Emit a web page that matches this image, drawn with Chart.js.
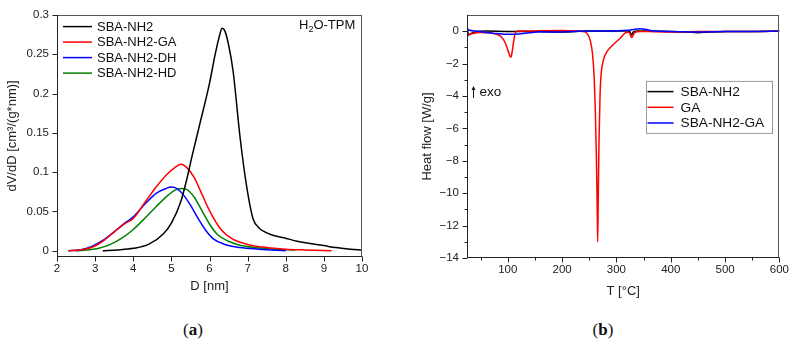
<!DOCTYPE html>
<html>
<head>
<meta charset="utf-8">
<script src="https://cdn.jsdelivr.net/npm/chart.js@4.4.0/dist/chart.umd.min.js"></script>
<style>
  body { margin: 0; background: #fff; width: 794px; height: 344px; position: relative; overflow: hidden; }
  #graficoA { position: absolute; left: 0; top: 0; }
  #graficoB { position: absolute; left: 400px; top: 0; }
  .legenda { position: absolute; top: 320px; font-family: "Liberation Serif", "DejaVu Serif", serif; font-size: 17px; color: #111; transform: translateX(-50%); }
</style>
</head>
<body>
<canvas id="graficoA" width="397" height="300"></canvas>
<canvas id="graficoB" width="394" height="300"></canvas>
<div class="legenda" style="left:193px">(<b>a</b>)</div>
<div class="legenda" style="left:603px">(<b>b</b>)</div>
<script>
// ---- (a) distribuicao de poros
const xNH2 = [3.2, 3.6, 4.0, 4.4, 4.8, 5.0, 5.25, 5.4, 5.55, 5.75, 6.0, 6.15, 6.27, 6.33, 6.4, 6.5, 6.62, 6.8, 6.97, 7.14, 7.3, 7.45, 7.7, 7.95, 8.3, 8.6, 9.0, 9.3, 9.7, 10.0];
const yNH2 = [0, 0.001, 0.003, 0.008, 0.022, 0.035, 0.063, 0.09, 0.122, 0.162, 0.213, 0.25, 0.275, 0.283, 0.28, 0.262, 0.228, 0.145, 0.083, 0.041, 0.029, 0.024, 0.019, 0.0165, 0.012, 0.0095, 0.0065, 0.004, 0.002, 0.001];
const xGA = [2.3, 2.6, 2.9, 3.2, 3.5, 3.8, 4.0, 4.3, 4.6, 4.9, 5.1, 5.25, 5.4, 5.6, 5.8, 6.0, 6.3, 6.6, 7.0, 7.5, 8.0, 8.5, 9.2];
const yGA = [0, 0.001, 0.004, 0.012, 0.024, 0.035, 0.041, 0.061, 0.081, 0.098, 0.106, 0.11, 0.106, 0.093, 0.072, 0.051, 0.027, 0.015, 0.008, 0.004, 0.002, 0.001, 0];
const xDH = [2.3, 2.6, 2.9, 3.2, 3.5, 3.8, 4.0, 4.3, 4.6, 4.85, 5.0, 5.15, 5.3, 5.5, 5.7, 5.9, 6.1, 6.4, 6.8, 7.3, 8.0];
const yDH = [0, 0.001, 0.005, 0.013, 0.024, 0.036, 0.043, 0.059, 0.073, 0.079, 0.081, 0.079, 0.072, 0.058, 0.041, 0.026, 0.015, 0.008, 0.004, 0.002, 0];
const xHD = [2.5, 2.8, 3.1, 3.4, 3.7, 4.0, 4.3, 4.6, 4.9, 5.1, 5.25, 5.4, 5.6, 5.8, 6.0, 6.2, 6.5, 6.8, 7.2, 7.7, 8.25];
const yHD = [0, 0.001, 0.003, 0.008, 0.016, 0.027, 0.041, 0.056, 0.07, 0.077, 0.079, 0.078, 0.068, 0.051, 0.034, 0.021, 0.012, 0.007, 0.004, 0.002, 0.001];
const ticksXA = [2, 3, 4, 5, 6, 7, 8, 9, 10];
const ticksYA = [0, 0.05, 0.1, 0.15, 0.2, 0.25, 0.3];
const rotulosYA = ["0", "0.05", "0.1", "0.15", "0.2", "0.25", "0.3"];

// ---- (b) DSC
const tNH2 = [25, 28, 32, 40, 60, 100, 150, 200, 250, 300, 320, 325, 328, 331, 340, 400, 430, 450, 470, 500, 550, 600];
const hNH2 = [0.3, -0.25, -0.15, -0.05, 0, -0.02, -0.02, -0.05, 0, 0, 0, -0.05, -0.25, -0.05, 0, -0.02, -0.06, -0.1, -0.05, -0.03, -0.02, 0];
const tGA = [25, 35, 50, 65, 80, 88, 95, 100, 104, 106, 108, 111, 114, 118, 130, 160, 200, 230, 242, 248, 252, 256, 259, 261, 263, 264.5, 265.5, 266.5, 268, 270, 272, 276, 282, 292, 305, 317, 323, 328, 333, 338, 345, 360, 400, 450, 500, 550, 600];
const hGA = [-0.25, -0.15, -0.08, -0.1, -0.2, -0.35, -0.7, -1.15, -1.55, -1.6, -1.3, -0.6, -0.1, 0, 0, 0.02, 0.03, 0, -0.05, -0.25, -0.6, -1.4, -2.8, -4.7, -7.5, -10.5, -13.0, -10.5, -6.7, -3.8, -2.6, -1.8, -1.3, -0.9, -0.5, -0.1, -0.05, -0.4, -0.12, -0.04, -0.02, -0.03, -0.05, -0.03, -0.02, -0.03, 0];
const tNH2GA = [25, 30, 40, 60, 80, 100, 120, 140, 160, 190, 220, 250, 290, 320, 335, 345, 355, 370, 400, 450, 500, 550, 600];
const hNH2GA = [0.15, 0.05, 0, -0.08, -0.15, -0.2, -0.18, -0.1, -0.04, -0.06, -0.02, 0, 0, 0.05, 0.12, 0.15, 0.1, 0, -0.02, -0.05, -0.02, -0.02, 0];
const ticksXB = [100, 200, 300, 400, 500, 600];
const menoresXB = [50, 150, 250, 350, 450, 550];
const ticksYB = [0, -2, -4, -6, -8, -10, -12, -14];
const menoresYB = [-1, -3, -5, -7, -9, -11, -13];
const rotulosYB = ["0", "\u22122", "\u22124", "\u22126", "\u22128", "\u221210", "\u221212", "\u221214"];

Chart.defaults.font.family = "'Liberation Sans', Arial, sans-serif";
Chart.defaults.color = "#222";

function pontos(xs, ys) {
  return xs.map((x, i) => ({ x: x, y: ys[i] }));
}

function serie(label, xs, ys, cor, ordem) {
  return {
    label: label,
    data: pontos(xs, ys),
    borderColor: cor,
    backgroundColor: cor,
    borderWidth: 1.5,
    pointRadius: 0,
    cubicInterpolationMode: "monotone",
    order: ordem,
  };
}

// caixa + tracinhos pra fora
const eixos = {
  id: "eixos",
  afterDatasetsDraw(chart, args, opts) {
    const { ctx, chartArea: a, scales } = chart;
    const sx = scales.x, sy = scales.y;
    const l = Math.round(a.left) + 0.5, b = Math.round(a.bottom) - 0.5;
    ctx.save();
    ctx.lineWidth = 1;
    ctx.strokeStyle = "#555";
    ctx.strokeRect(l, Math.round(a.top) + 0.5, Math.round(a.right) - l - 0.5, b - Math.round(a.top) - 0.5);
    ctx.strokeStyle = "#222";
    ctx.beginPath();
    ctx.moveTo(l, a.top); ctx.lineTo(l, b); ctx.lineTo(a.right, b);
    const marca = (lista, tam, horiz) => lista.forEach((v) => {
      if (horiz) {
        const p = Math.round(sx.getPixelForValue(v)) + 0.5;
        ctx.moveTo(p, b); ctx.lineTo(p, b + tam);
      } else {
        const p = Math.round(sy.getPixelForValue(v)) + 0.5;
        ctx.moveTo(l, p); ctx.lineTo(l - tam, p);
      }
    });
    marca(opts.xMaior || [], 5, true);
    marca(opts.xMenor || [], 3, true);
    marca(opts.yMaior || [], 5, false);
    marca(opts.yMenor || [], 3, false);
    ctx.stroke();
    ctx.restore();
  },
};

// legenda desenhada dentro da area
const legendaInterna = {
  id: "legendaInterna",
  afterDraw(chart, args, opts) {
    const { ctx, chartArea: a } = chart;
    ctx.save();
    if (opts.caixa) {
      ctx.strokeStyle = "#999";
      ctx.lineWidth = 1;
      ctx.strokeRect(a.left + opts.caixa[0] + 0.5, a.top + opts.caixa[1] + 0.5, opts.caixa[2], opts.caixa[3]);
    }
    ctx.font = opts.fonte + "px 'Liberation Sans', Arial, sans-serif";
    ctx.textBaseline = "middle";
    ctx.fillStyle = "#111";
    opts.itens.forEach((i, k) => {
      const ds = chart.data.datasets[i];
      const y = a.top + opts.y0 + k * opts.passo;
      ctx.strokeStyle = ds.borderColor;
      ctx.lineWidth = 1.5;
      ctx.beginPath();
      ctx.moveTo(a.left + opts.x0, y);
      ctx.lineTo(a.left + opts.x0 + opts.linha, y);
      ctx.stroke();
      ctx.fillText(ds.label, a.left + opts.xt, y + 0.5);
    });
    ctx.restore();
  },
};

const anotacoes = {
  id: "anotacoes",
  afterDraw(chart, args, opts) {
    const { ctx, chartArea: a } = chart;
    ctx.save();
    ctx.fillStyle = "#111";
    ctx.strokeStyle = "#111";
    if (opts.tpm) {
      let x = a.right - 63, y = a.top + 14.5;
      ctx.textBaseline = "alphabetic";
      ctx.font = "13px 'Liberation Sans', Arial, sans-serif";
      ctx.fillText("H", x, y);
      x += ctx.measureText("H").width;
      ctx.font = "9px 'Liberation Sans', Arial, sans-serif";
      ctx.fillText("2", x, y + 3);
      x += ctx.measureText("2").width;
      ctx.font = "13px 'Liberation Sans', Arial, sans-serif";
      ctx.fillText("O-TPM", x, y);
    }
    if (opts.exo) {
      const x = a.left + 6.5, y = a.top + 83;
      ctx.lineWidth = 1;
      ctx.beginPath();
      ctx.moveTo(x, y); ctx.lineTo(x, y - 10);
      ctx.stroke();
      ctx.beginPath();
      ctx.moveTo(x - 2, y - 8); ctx.lineTo(x, y - 12); ctx.lineTo(x + 2, y - 8);
      ctx.fill();
      ctx.font = "13.5px 'Liberation Sans', Arial, sans-serif";
      ctx.textBaseline = "middle";
      ctx.fillText("exo", x + 6, y - 6);
    }
    ctx.restore();
  },
};

function eixoX(min, max, ticks, titulo, padTitulo, altura) {
  return {
    type: "linear",
    min: min,
    max: max,
    afterBuildTicks: (s) => { s.ticks = ticks.map((v) => ({ value: v })); },
    afterFit: (s) => { s.height = altura; },
    grid: { display: false, drawTicks: false },
    border: { display: false },
    ticks: { autoSkip: false, maxRotation: 0, padding: 5, font: { size: 11.5 }, callback: (v) => String(v) },
    title: { display: true, text: titulo, font: { size: 13 }, padding: { top: 0, bottom: padTitulo } },
  };
}

function eixoY(min, max, ticks, rotulos, titulo, padTitulo, largura) {
  return {
    min: min,
    max: max,
    afterBuildTicks: (s) => { s.ticks = ticks.map((v) => ({ value: v })); },
    afterFit: (s) => { s.width = largura; },
    grid: { display: false, drawTicks: false },
    border: { display: false },
    ticks: { autoSkip: false, padding: 8, font: { size: 11.5 }, callback: (v, i) => rotulos[i] },
    title: { display: true, text: titulo, font: { size: 13 }, padding: { top: padTitulo, bottom: 0 } },
  };
}

function exibirGraficoA() {
  const ctx = document.getElementById("graficoA").getContext("2d");
  new Chart(ctx, {
    type: "line",
    data: {
      datasets: [
        serie("SBA-NH2", xNH2, yNH2, "#000000", 0),
        serie("SBA-NH2-GA", xGA, yGA, "#ff0000", 1),
        serie("SBA-NH2-DH", xDH, yDH, "#0000ff", 2),
        serie("SBA-NH2-HD", xHD, yHD, "#008000", 3),
      ],
    },
    options: {
      responsive: false,
      animation: false,
      layout: { padding: { top: 8, right: 35, left: 0, bottom: 0 } },
      scales: {
        x: eixoX(2, 10, ticksXA, "D [nm]", 6, 43),
        y: eixoY(-0.008, 0.3, ticksYA, rotulosYA, "dV/dD [cm\u00b3/(g*nm)]", 5, 57),
      },
      plugins: {
        legend: { display: false },
        tooltip: { enabled: false },
        eixos: { xMaior: ticksXA, yMaior: ticksYA },
        legendaInterna: { itens: [0, 1, 2, 3], x0: 6, linha: 29, xt: 40, y0: 11.7, passo: 15.5, fonte: 13 },
        anotacoes: { tpm: true },
      },
    },
    plugins: [eixos, legendaInterna, anotacoes],
  });
}

function exibirGraficoB() {
  const ctx = document.getElementById("graficoB").getContext("2d");
  new Chart(ctx, {
    type: "line",
    data: {
      datasets: [
        serie("SBA-NH2", tNH2, hNH2, "#000000", 2),
        serie("GA", tGA, hGA, "#ff0000", 1),
        serie("SBA-NH2-GA", tNH2GA, hNH2GA, "#0000ff", 0),
      ],
    },
    options: {
      responsive: false,
      animation: false,
      layout: { padding: { top: 3, right: 11, left: 0, bottom: 0 } },
      scales: {
        x: eixoX(25, 600, ticksXB, "T [\u00b0C]", 1, 42),
        y: eixoY(-14, 1, ticksYB, rotulosYB, "Heat flow [W/g]", 20, 67),
      },
      plugins: {
        legend: { display: false },
        tooltip: { enabled: false },
        eixos: { xMaior: ticksXB, xMenor: menoresXB, yMaior: ticksYB, yMenor: menoresYB },
        legendaInterna: { itens: [0, 1, 2], caixa: [179, 66, 126, 52], x0: 180.5, linha: 26, xt: 213.5, y0: 76.7, passo: 15.7, fonte: 13.7 },
        anotacoes: { exo: true },
      },
    },
    plugins: [eixos, legendaInterna, anotacoes],
  });
}

exibirGraficoA();
exibirGraficoB();
</script>
</body>
</html>
